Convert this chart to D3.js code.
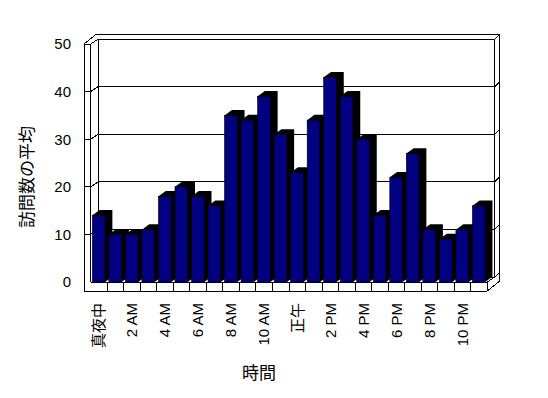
<!DOCTYPE html>
<html>
<head>
<meta charset="utf-8">
<script src="https://cdn.jsdelivr.net/npm/d3@7"></script>
<style>
  body { margin: 0; background: #fff; }
  text { font-family: "Liberation Sans", "Noto Sans CJK JP", sans-serif; fill: #000; }
</style>
</head>
<body>
<svg id="chart" width="548" height="398"></svg>
<script>
// hours of the day, one column each
const categories = ['真夜中', '1 AM', '2 AM', '3 AM', '4 AM', '5 AM', '6 AM', '7 AM', '8 AM', '9 AM', '10 AM', '11 AM',
  '正午', '1 PM', '2 PM', '3 PM', '4 PM', '5 PM', '6 PM', '7 PM', '8 PM', '9 PM', '10 PM', '11 PM'];
const visits = [14, 10, 10, 11, 18, 20, 18, 16, 35, 34, 39, 31, 23, 34, 43, 39, 30, 14, 22, 27, 11, 9, 11, 16];
const yTicks = [0, 10, 20, 30, 40, 50];
const tickLabels = categories.filter((d, i) => i % 2 === 0);
const yTitle = '訪問数の平均';
const xTitle = '時間';

const svg = d3.select('#chart');

// front plane geometry
const wallLeft = 84;      // outer edge of the side wall
const plotLeft = 90.7;    // inner edge of the side wall / first column
const plotRight = 487.3;
const floorBottom = 291;

const x = d3.scaleBand().domain(categories).range([plotLeft, plotRight]);
const y = d3.scaleLinear().domain([0, 50]).range([282, 44]);

// oblique depth offsets
const inner = {x: 7.5, y: -5};   // inner face of back wall
const outer = {x: 12.5, y: -10}; // outer face of back wall
const barDepth = {x: 7.3, y: -5.3};

const line = d3.line();
const frame = svg.append('g')
  .attr('fill', 'none')
  .attr('stroke', '#000')
  .attr('stroke-width', 1)
  .attr('shape-rendering', 'crispEdges');

const yTop = y(50), yBase = y(0);

// outline of walls + floor
frame.append('path')
  .attr('fill', '#fff')
  .attr('d', line([
    [wallLeft, floorBottom], [wallLeft, yTop], [wallLeft + outer.x, yTop + outer.y],
    [plotRight + outer.x, yTop + outer.y], [plotRight + outer.x, floorBottom + outer.y],
    [plotRight, floorBottom]
  ]) + 'Z');

// side wall front face and top
frame.append('path').attr('d', line([[wallLeft, yTop], [plotLeft, yTop], [plotLeft, yBase]]));
frame.append('path').attr('d', line([[plotLeft, yTop], [plotLeft + inner.x, yTop + inner.y]]));

// back wall inner face
frame.append('path').attr('d', line([
  [plotLeft + inner.x, yBase + inner.y], [plotLeft + inner.x, yTop + inner.y],
  [plotRight + inner.x, yTop + inner.y], [plotRight + inner.x, yBase + inner.y]
]));
frame.append('path').attr('d', line([[plotRight + inner.x, yTop + inner.y], [plotRight + outer.x, yTop + outer.y]]));

// floor
frame.append('path').attr('d', line([[plotLeft, yBase], [plotRight, yBase], [plotRight, floorBottom]]));
frame.append('path').attr('d', line([[plotRight, yBase], [plotRight + inner.x, yBase + inner.y], [plotRight + outer.x, yBase + outer.y]]));
frame.append('path').attr('d', line([[plotLeft + inner.x, yBase + inner.y], [plotRight + inner.x, yBase + inner.y]]));

// category dividers on the floor front
frame.selectAll('.divider')
  .data(categories.slice(1))
  .join('path')
  .attr('class', 'divider')
  .attr('d', d => line([[x(d), yBase], [x(d), floorBottom]]));

// gridlines
frame.selectAll('.grid')
  .data(yTicks.filter(v => v > 0 && v < 50))
  .join('path')
  .attr('class', 'grid')
  .attr('d', v => line([
    [wallLeft, y(v)], [plotLeft, y(v)], [plotLeft + inner.x, y(v) + inner.y],
    [plotRight + inner.x, y(v) + inner.y], [plotRight + outer.x, y(v) + outer.y]
  ]));

// columns
const bw = x.bandwidth();
const bars = svg.append('g').selectAll('g')
  .data(categories.map((c, i) => ({c, v: visits[i]})))
  .join('g');

bars.each(function(d) {
  const g = d3.select(this);
  const xl = x(d.c) + bw * 0.1;
  const xr = xl + bw * 0.77;
  const yt = y(d.v);
  g.append('path')
    .attr('fill', '#000')
    .attr('d', line([
      [xl, yt], [xl + barDepth.x, yt + barDepth.y], [xr + barDepth.x, yt + barDepth.y],
      [xr + barDepth.x, yBase + barDepth.y], [xr, yBase]
    ]) + 'Z');
  g.append('rect')
    .attr('x', xl)
    .attr('y', yt)
    .attr('width', xr - xl)
    .attr('height', yBase - yt)
    .attr('fill', '#000080')
    .attr('stroke', '#000')
    .attr('stroke-width', 0.6);
});

// value axis labels
svg.append('g')
  .attr('transform', `translate(${wallLeft},0)`)
  .call(d3.axisLeft(y).tickValues(yTicks).tickSize(0).tickPadding(13))
  .call(g => g.select('.domain').remove())
  .selectAll('text')
  .style('font-size', '15px')
  .style('font-family', '"Liberation Sans", "Noto Sans CJK JP", sans-serif');

// category labels, rotated
svg.append('g')
  .attr('transform', 'translate(0,303)')
  .call(d3.axisBottom(x).tickValues(tickLabels).tickSize(0).tickPadding(0))
  .call(g => g.select('.domain').remove())
  .selectAll('text')
  .attr('transform', 'rotate(-90)')
  .attr('text-anchor', 'end')
  .attr('x', 0)
  .attr('y', 0)
  .attr('dy', '0.35em')
  .style('font-size', '15px')
  .style('font-family', '"Liberation Sans", "Noto Sans CJK JP", sans-serif');

// axis titles
svg.append('text')
  .attr('transform', 'translate(27,177) rotate(-90)')
  .attr('text-anchor', 'middle')
  .attr('dy', '0.35em')
  .style('font-size', '17px')
  .text(yTitle);

svg.append('text')
  .attr('x', 259)
  .attr('y', 379)
  .attr('text-anchor', 'middle')
  .style('font-size', '17px')
  .text(xTitle);
</script>
</body>
</html>
